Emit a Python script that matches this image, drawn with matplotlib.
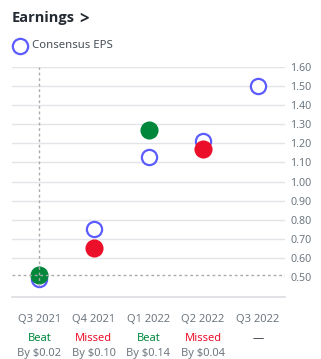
#!/usr/bin/env python3

import matplotlib.pyplot as plt

QUARTERS = ["Q3 2021", "Q4 2021", "Q1 2022", "Q2 2022", "Q3 2022"]
ESTIMATE = [0.49, 0.75, 1.13, 1.21, 1.50]
ACTUAL = [0.51, 0.65, 1.27, 1.17, None]
RESULT = ["Beat", "Missed", "Beat", "Missed", "\u2014"]
DIFF = ["By $0.02", "By $0.10", "By $0.14", "By $0.04", ""]
Y_TICKS = [0.5, 0.6, 0.7, 0.8, 0.9, 1.0, 1.1, 1.2, 1.3, 1.4, 1.5, 1.6]

BLUE = "#5c5cff"
GREEN = "#00873c"
RED = "#eb0f29"
GRAY = "#6e7780"
DARK = "#232a31"


def main():
    plt.rcParams["font.family"] = ["Noto Sans", "DejaVu Sans"]
    fig = plt.figure(figsize=(3.21, 3.59), dpi=100)
    ax = fig.add_axes([12 / 321, 1 - 297 / 359, 273 / 321, 230 / 359])

    # Header and legend.
    fig.text(12 / 321, 1 - 18 / 359, "Earnings", fontsize=10.5,
             family=["Open Sans", "DejaVu Sans"], weight="bold",
             color=DARK, va="center")
    fig.text(79 / 321, 1 - 19 / 359, ">", fontsize=12,
             family=["Open Sans", "DejaVu Sans"], weight="bold",
             color=DARK, va="center")
    fig.lines.append(plt.Line2D([20 / 321], [1 - 46 / 359], marker="o",
                                markersize=11, markerfacecolor="white",
                                markeredgecolor=BLUE, markeredgewidth=1.6,
                                transform=fig.transFigure))
    fig.text(32 / 321, 1 - 46 / 359, "Consensus EPS", fontsize=8.2,
             color="#464e56", va="center")

    xs = list(range(len(QUARTERS)))
    ax.set_xlim(-0.5, 4.5)
    ax.set_ylim(0.395, 1.6)

    # Grid.
    for y in Y_TICKS[1:]:
        ax.axhline(y, color="#e3e4ea", lw=1, zorder=0)
    ax.axhline(0.395, color="#dcdde2", lw=1.2, zorder=0, clip_on=False)

    # Estimates and actuals.
    ax.scatter(xs, ESTIMATE, s=120, facecolor="white", edgecolor=BLUE,
               linewidth=1.6, zorder=3)
    for x, a, r in zip(xs, ACTUAL, RESULT):
        if a is None:
            continue
        ax.scatter([x], [a], s=170, color=GREEN if r == "Beat" else RED,
                   linewidth=0, zorder=4)

    # Crosshair on the first quarter.
    ax.axhline(ACTUAL[0], color="#aaaaaa", lw=1, ls=(0, (2, 2)), zorder=5)
    ax.axvline(0, ymin=0.05, color="#aaaaaa", lw=1, ls=(0, (2, 2)), zorder=5)

    ax.yaxis.tick_right()
    ax.set_yticks(Y_TICKS)
    ax.set_yticklabels([f"{v:.2f}" for v in Y_TICKS])
    ax.tick_params(axis="y", length=0, pad=4, labelsize=7.7, labelcolor=GRAY)
    ax.set_xticks([])
    for side in ax.spines.values():
        side.set_visible(False)

    # Labels below the chart.
    for x, q, r, d in zip(xs, QUARTERS, RESULT, DIFF):
        ax.annotate(q, (x, 0), xycoords=("data", "axes fraction"),
                    xytext=(0, -16), textcoords="offset points",
                    ha="center", va="center", fontsize=8, color=GRAY)
        color = {"Beat": GREEN, "Missed": RED}.get(r, DARK)
        ax.annotate(r, (x, 0), xycoords=("data", "axes fraction"),
                    xytext=(0, -30), textcoords="offset points",
                    ha="center", va="center", fontsize=8, color=color)
        ax.annotate(d, (x, 0), xycoords=("data", "axes fraction"),
                    xytext=(0, -41), textcoords="offset points",
                    ha="center", va="center", fontsize=8, color=GRAY)

    fig.savefig("out.png", dpi=100)


if __name__ == "__main__":
    main()
